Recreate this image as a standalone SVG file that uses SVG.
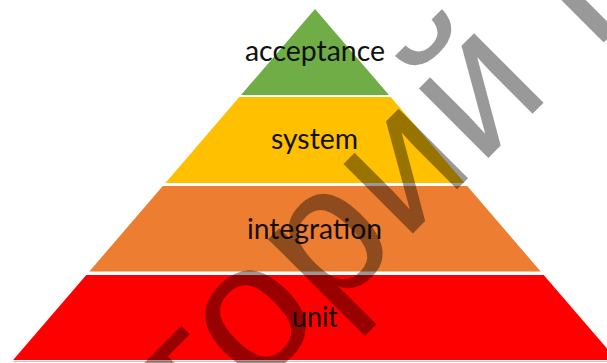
<svg xmlns="http://www.w3.org/2000/svg" width="607" height="363" viewBox="0 0 607 363">
<style>
.lbl{font-family:Lato,"Open Sans","Liberation Sans",sans-serif;font-size:29px;fill:#111;text-anchor:middle}
.wm{font-family:"Liberation Sans",Arial,sans-serif;font-size:186px;letter-spacing:2.7px;fill:#000;fill-opacity:0.4}
</style>
<rect width="607" height="363" fill="#fff"/>
<g id="acceptance">
<polygon points="315,9 389,95 241,95" fill="#70AD47"/>
<text class="lbl" x="315" y="60.5" textLength="140" lengthAdjust="spacingAndGlyphs">acceptance</text>
</g>
<g id="system">
<polygon points="239.3,97 390.7,97 464.6,183 165.4,183" fill="#FFC000"/>
<text class="lbl" x="314.5" y="148.5" textLength="87" lengthAdjust="spacingAndGlyphs">system</text>
</g>
<g id="integration">
<polygon points="162.8,186 467.2,186 540.7,271.5 89.3,271.5" fill="#ED7D31"/>
<text class="lbl" x="314.5" y="238.5" textLength="135" lengthAdjust="spacingAndGlyphs">integration</text>
</g>
<g id="unit">
<polygon points="86.3,275 543.7,275 616.9,360 13.1,360" fill="#FF0000"/>
<line x1="13" y1="361.5" x2="607" y2="361.5" stroke="#f6b3b3" stroke-width="1"/>
<text class="lbl" x="315" y="326.7" textLength="46" lengthAdjust="spacingAndGlyphs">unit</text>
</g>
<g id="connectors"></g>
<g id="watermark">
<text class="wm" transform="rotate(-45)" x="-184" y="457">торий Г</text>
</g>
</svg>
